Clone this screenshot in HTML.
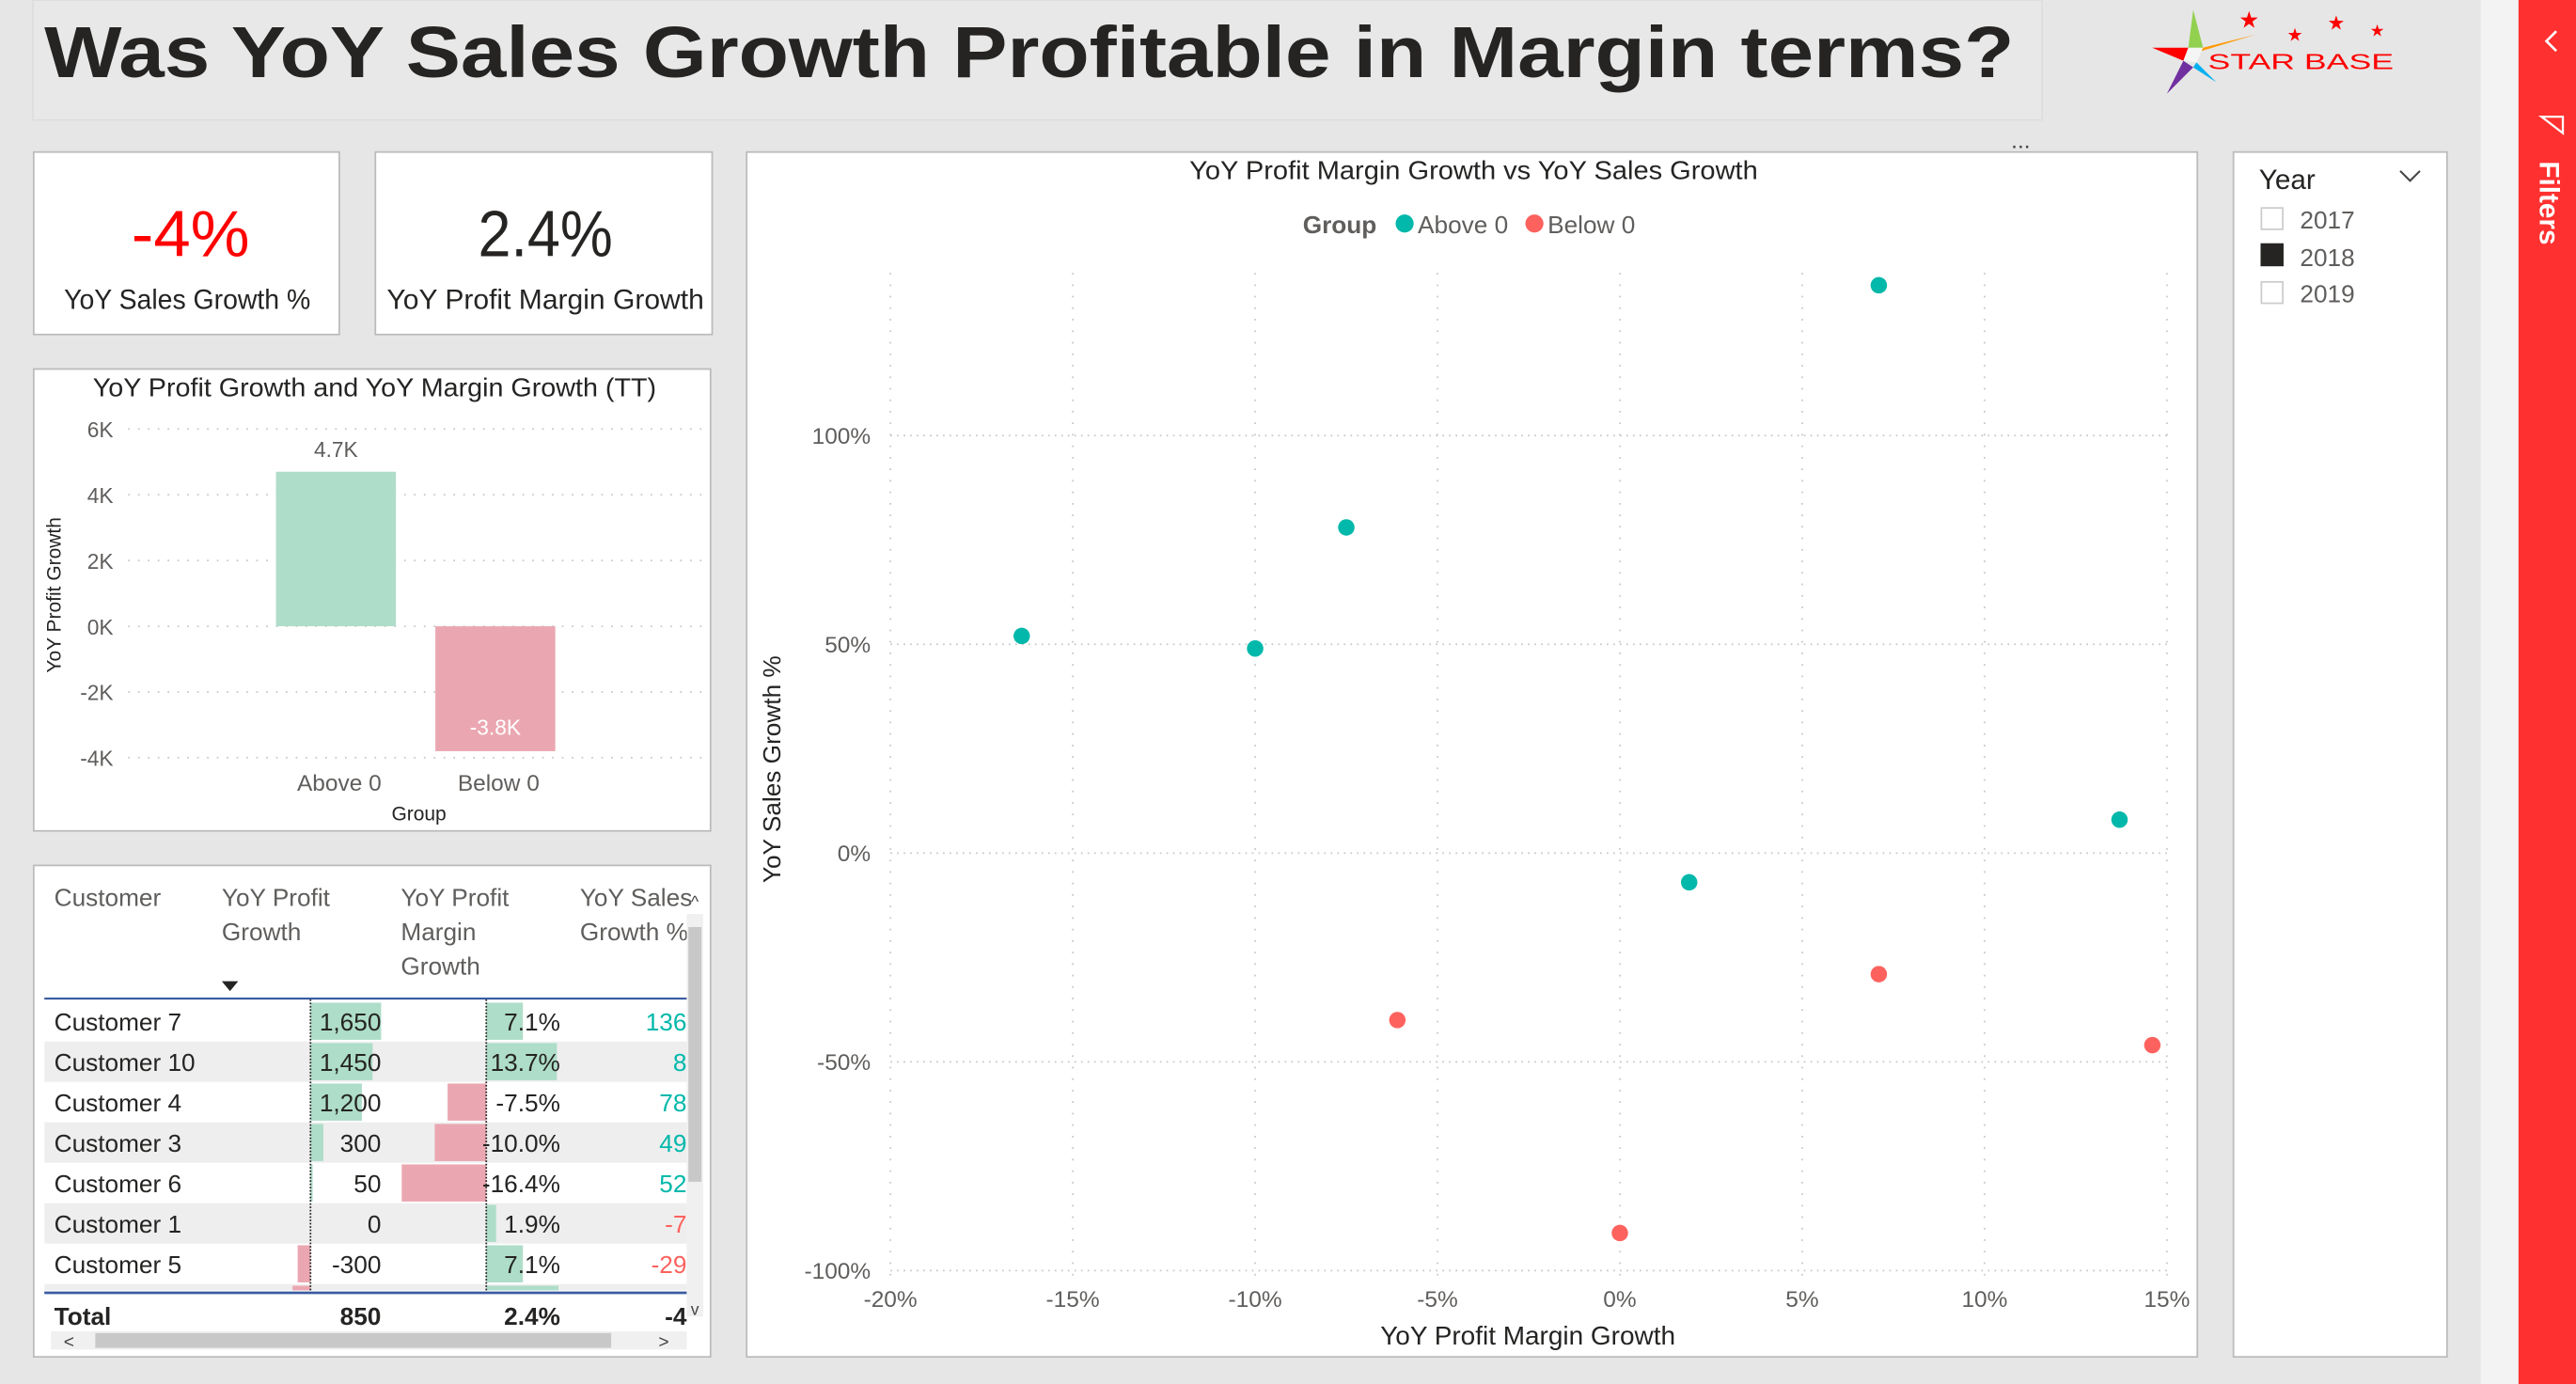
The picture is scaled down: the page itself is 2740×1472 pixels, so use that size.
<!DOCTYPE html>
<html><head><meta charset="utf-8">
<style>
html,body{margin:0;padding:0;background:#e6e6e6;}
svg{display:block;}
text{font-family:"Liberation Sans Narrow","Liberation Sans",sans-serif;}
</style></head>
<body>
<svg id="s" width="2740" height="1472" viewBox="0 0 1568 842" preserveAspectRatio="none" xmlns="http://www.w3.org/2000/svg">
<rect x="0" y="0" width="1568" height="842" fill="#e6e6e6"/>
<rect x="1510" y="0" width="24" height="842" fill="#f3f3f3"/>
<g>
<rect x="1533" y="0" width="35" height="842" fill="#ff3030"/>
<path d="M1556 19 L1550 25 L1556 31" stroke="#fff" stroke-width="1.5" fill="none"/>
<path d="M1547 71 L1560 71 L1560 81 Z" stroke="#fff" stroke-width="1.3" fill="none"/>
<text x="1546" y="98" transform="rotate(90 1546 98)" font-family="Liberation Sans" font-weight="bold" font-size="17" fill="#fff">Filters</text>
</g>
<!-- title -->
<rect x="20" y="0" width="1223" height="73" fill="#e8e8e8" stroke="#ddd" stroke-width="1"/>
<text x="27" y="47" font-family="DejaVu Sans" font-weight="bold" font-size="44" fill="#252423" textLength="1199" lengthAdjust="spacingAndGlyphs">Was YoY Sales Growth Profitable in Margin terms?</text>
<!-- logo -->
<g>
<polygon points="1335,6 1341,29 1332,29" fill="#92d050"/>
<polygon points="1341,29 1373,21 1340,31" fill="#ff9900"/>
<polygon points="1332,29 1310,29 1329,37" fill="#ff0000"/>
<polygon points="1329,37 1319,57 1335,41" fill="#7030a0"/>
<polygon points="1335,41 1349,50 1337,38" fill="#00b0f0"/>
<polygon points="1332,29 1341,29 1337,38 1329,37" fill="#fff" opacity="0.6"/>
<text x="1369" y="17" text-anchor="middle" font-size="14" fill="#f00" font-family="DejaVu Sans">★</text>
<text x="1397" y="25" text-anchor="middle" font-size="11" fill="#f00" font-family="DejaVu Sans">★</text>
<text x="1422" y="18" text-anchor="middle" font-size="12" fill="#f00" font-family="DejaVu Sans">★</text>
<text x="1447" y="22" text-anchor="middle" font-size="10" fill="#f00" font-family="DejaVu Sans">★</text>
<text x="1344" y="42" font-size="13" fill="#f00" font-family="DejaVu Sans Mono" textLength="113" lengthAdjust="spacingAndGlyphs">STAR BASE</text>
</g>
<!-- KPI cards -->
<g>
<rect x="20.5" y="92.5" width="186" height="111" fill="#fff" stroke="#bbb"/>
<text x="116" y="156" text-anchor="middle" font-size="40" fill="#ff0000" textLength="72" lengthAdjust="spacingAndGlyphs">-4%</text>
<text x="114" y="188" text-anchor="middle" font-size="17" fill="#252423" textLength="150" lengthAdjust="spacingAndGlyphs">YoY Sales Growth %</text>
</g>
<g>
<rect x="228.5" y="92.5" width="205" height="111" fill="#fff" stroke="#bbb"/>
<text x="332" y="156" text-anchor="middle" font-size="40" fill="#252423" textLength="82" lengthAdjust="spacingAndGlyphs">2.4%</text>
<text x="332" y="188" text-anchor="middle" font-size="17" fill="#252423" textLength="193" lengthAdjust="spacingAndGlyphs">YoY Profit Margin Growth</text>
</g>
<!-- bar chart -->
<g id="bar">
<rect x="20.5" y="224.5" width="412" height="281" fill="#fff" stroke="#bbb"/>
<text x="228" y="241" text-anchor="middle" font-size="16" fill="#252423" textLength="343" lengthAdjust="spacingAndGlyphs">YoY Profit Growth and YoY Margin Growth (TT)</text>
<text x="37" y="362" transform="rotate(-90 37 362)" text-anchor="middle" font-size="12" fill="#252423">YoY Profit Growth</text>
<text x="255" y="499" text-anchor="middle" font-size="12" fill="#252423">Group</text>
</g>
<!-- table -->
<g id="tbl">
<rect x="20.5" y="526.5" width="412" height="299" fill="#fff" stroke="#bbb"/>
</g>
<!-- scatter -->
<g id="sc">
<rect x="454.5" y="92.5" width="883" height="733" fill="#fff" stroke="#bbb"/>
<text x="1230" y="90" text-anchor="middle" font-size="14" fill="#444">...</text>
<text x="897" y="109" text-anchor="middle" font-size="16" fill="#252423" textLength="346" lengthAdjust="spacingAndGlyphs">YoY Profit Margin Growth vs YoY Sales Growth</text>
<g>
<text x="793" y="142" font-size="15" font-weight="bold" fill="#605e5c">Group</text>
<circle cx="855" cy="136" r="5.5" fill="#01b8aa"/>
<text x="863" y="142" font-size="15" fill="#605e5c">Above 0</text>
<circle cx="934" cy="136" r="5.5" fill="#fd625e"/>
<text x="942" y="142" font-size="15" fill="#605e5c">Below 0</text>
</g>
<text x="475" y="468" transform="rotate(-90 475 468)" text-anchor="middle" font-size="15" fill="#252423">YoY Sales Growth %</text>
<text x="930" y="818" text-anchor="middle" font-size="16" fill="#252423">YoY Profit Margin Growth</text>
</g>
<!-- slicer -->
<g>
<rect x="1359.5" y="92.5" width="130" height="733" fill="#fff" stroke="#bbb"/>
<text x="1375" y="115" font-size="17" fill="#252423">Year</text>
<path d="M1461 104 L1467 110 L1473 104" stroke="#444" fill="none" stroke-width="1.2"/>
<rect x="1376.5" y="126.5" width="13" height="13" fill="#fff" stroke="#ccc"/>
<text x="1400" y="139" font-size="15" fill="#605e5c">2017</text>
<rect x="1376" y="148" width="14" height="14" fill="#252423"/>
<text x="1400" y="162" font-size="15" fill="#605e5c">2018</text>
<rect x="1376.5" y="171.5" width="13" height="13" fill="#fff" stroke="#ccc"/>
<text x="1400" y="184" font-size="15" fill="#605e5c">2019</text>
</g>
</svg>
<script>
// ---------- bar chart data ----------
const barCats = ["Above 0","Below 0"];
const barVals = [4700,-3800];
const barLabels = ["4.7K","-3.8K"];
const barTicks = [6000,4000,2000,0,-2000,-4000];
const barTickLabels = ["6K","4K","2K","0K","-2K","-4K"];
// ---------- scatter data ----------
const scX = [7.1,-7.5,-16.4,-10.0,13.7,1.9,-6.1,7.1,14.6,0.0];
const scY = [136,78,52,49,8,-7,-40,-29,-46,-91];
const scGroup = ["Above 0","Above 0","Above 0","Above 0","Above 0","Above 0","Below 0","Below 0","Below 0","Below 0"];
const scXTicks = [-20,-15,-10,-5,0,5,10,15];
const scYTicks = [100,50,0,-50,-100];
// ---------- table data ----------
const tCustomers = ["Customer 7","Customer 10","Customer 4","Customer 3","Customer 6","Customer 1","Customer 5","Customer 8"];
const tProfit = [1650,1450,1200,300,50,0,-300,-420];
const tMargin = [7.1,13.7,-7.5,-10.0,-16.4,1.9,7.1,14.0];
const tSales = [136,8,78,49,52,-7,-29,-46];
const tTotals = ["850","2.4%","-4"];

const NS="http://www.w3.org/2000/svg";
function mk(parent,tag,attrs,txt){const e=document.createElementNS(NS,tag);for(const k in attrs)e.setAttribute(k,attrs[k]);if(txt!==undefined)e.textContent=txt;parent.appendChild(e);return e;}

// bar chart
const bar=document.getElementById('bar');
const by=v=>381-v*0.02;
barTicks.forEach((t,i)=>{
  const l=mk(bar,'line',{x1:78,x2:430,y1:by(t),y2:by(t),stroke:'#c8c8c8','stroke-dasharray':'1 5'});
  
  
  const tx=mk(bar,'text',{x:69,y:by(t)+5,'text-anchor':'end','font-size':13,fill:'#605e5c'},barTickLabels[i]);
  
  
});
barCats.forEach((c,i)=>{
  const cx=204.5+i*97, w=73, v=barVals[i];
  const r=mk(bar,'rect',{x:cx-w/2,y:Math.min(by(v),by(0)),width:w,height:Math.abs(by(v)-by(0)),fill:v>=0?'#aeddc9':'#eba7b1'});
  
  
  const lt=mk(bar,'text',{x:cx,y:v>=0?by(v)-9:by(v)-10,'text-anchor':'middle','font-size':13,fill:v>=0?'#605e5c':'#fff'},barLabels[i]);
  
  
  const ct=mk(bar,'text',{x:cx+2,y:481,'text-anchor':'middle','font-size':14,fill:'#605e5c'},c);
  
  
});

// scatter
const sc=document.getElementById('sc');
const sx=v=>542+(v+20)*22.2;
const sy=v=>519-v*2.54;
scXTicks.forEach(t=>{
  const l=mk(sc,'line',{x1:sx(t),x2:sx(t),y1:166,y2:776,stroke:'#c8c8c8','stroke-dasharray':'1 6'});
  
  
  const tx=mk(sc,'text',{x:sx(t),y:795,'text-anchor':'middle','font-size':14,fill:'#605e5c'},t+'%');
  
  
});
scYTicks.forEach(t=>{
  const l=mk(sc,'line',{x1:542,x2:1322,y1:sy(t),y2:sy(t),stroke:'#c8c8c8','stroke-dasharray':'1 3'});
  
  
  const tx=mk(sc,'text',{x:530,y:sy(t)+5,'text-anchor':'end','font-size':14,fill:'#605e5c'},t+'%');
  
  
});
scX.forEach((x,i)=>{
  const c=mk(sc,'circle',{cx:sx(x),cy:sy(scY[i]),r:5,fill:scGroup[i]==="Above 0"?'#01b8aa':'#fd625e'});
  
  
});

// table
const tb=document.getElementById('tbl');
const hdr=[[33,["Customer"]],[135,["YoY Profit","Growth"]],[244,["YoY Profit","Margin","Growth"]],[353,["YoY Sales","Growth %"]]];
hdr.forEach(h=>{h[1].forEach((s,j)=>{
  const t=mk(tb,'text',{x:h[0],y:551+j*21,'font-size':15,fill:'#605e5c'},s);
  
  
});});
mk(tb,'polygon',{points:'135,597 145,597 140,603',fill:'#252423'});
const rowH=24.6, r0=609;
const pZero=189, pScale=43/1650, mZero=296, mScale=43/13.7;
const clip=mk(tb,'clipPath',{id:'rc'});
mk(clip,'rect',{x:27,y:608,width:391,height:177});
const rows=mk(tb,'g',{'clip-path':'url(#rc)'});
tCustomers.forEach((c,i)=>{
  const y=r0+i*rowH;
  if(i%2===1)mk(rows,'rect',{x:27,y:y,width:391,height:rowH,fill:'#eeeeee'});
  const p=tProfit[i];
  const pb=mk(rows,'rect',{x:p>=0?pZero:pZero+p*pScale,y:y+1,width:Math.abs(p*pScale),height:rowH-2,fill:p>=0?'#aeddc9':'#eba7b1'});
  
  
  const m=tMargin[i];
  const mb=mk(rows,'rect',{x:m>=0?mZero:mZero+m*mScale,y:y+1,width:Math.abs(m*mScale),height:rowH-2,fill:m>=0?'#aeddc9':'#eba7b1'});
  
  
  const ty=y+18;
  const t1=mk(rows,'text',{x:33,y:ty,'font-size':15,fill:'#252423'},c);
  
  
  const t2=mk(rows,'text',{x:232,y:ty,'text-anchor':'end','font-size':15,fill:'#252423'},p.toLocaleString('en-US'));
  
  
  const t3=mk(rows,'text',{x:341,y:ty,'text-anchor':'end','font-size':15,fill:'#252423'},m.toFixed(1)+'%');
  
  
  const t4=mk(rows,'text',{x:418,y:ty,'text-anchor':'end','font-size':15,fill:tSales[i]>=0?'#01b8aa':'#fd625e'},String(tSales[i]));
  
  
});
mk(tb,'line',{x1:pZero,x2:pZero,y1:608,y2:786,stroke:'#252423','stroke-dasharray':'1 1'});
mk(tb,'line',{x1:mZero,x2:mZero,y1:608,y2:786,stroke:'#252423','stroke-dasharray':'1 1'});
mk(tb,'line',{x1:27,x2:418,y1:607.5,y2:607.5,stroke:'#3a5ba0','stroke-width':1.2});
mk(tb,'line',{x1:27,x2:418,y1:786.5,y2:786.5,stroke:'#3a5ba0','stroke-width':1.6});
const tt=mk(tb,'text',{x:33,y:806,'font-size':15,'font-weight':'bold',fill:'#252423'},'Total');


[232,341,418].forEach((x,i)=>{
  const t=mk(tb,'text',{x:x,y:806,'text-anchor':'end','font-size':15,'font-weight':'bold',fill:'#252423'},tTotals[i]);
  
  
});
// scrollbars
const vs=mk(tb,'rect',{x:418,y:556,width:10,height:245,fill:'#f0f0f0'});


mk(tb,'rect',{x:419,y:564,width:8,height:155,fill:'#c8c8c8'});
mk(tb,'text',{x:423,y:552,'text-anchor':'middle','font-size':10,fill:'#444'},'^');
mk(tb,'text',{x:423,y:800,'text-anchor':'middle','font-size':10,fill:'#444'},'v');
const hs=mk(tb,'rect',{x:31,y:810,width:387,height:11,fill:'#f0f0f0'});


mk(tb,'rect',{x:58,y:811,width:314,height:9,fill:'#c8c8c8'});
mk(tb,'text',{x:42,y:820,'text-anchor':'middle','font-size':11,fill:'#444'},'<');
mk(tb,'text',{x:404,y:820,'text-anchor':'middle','font-size':11,fill:'#444'},'>');
</script>
</body></html>
